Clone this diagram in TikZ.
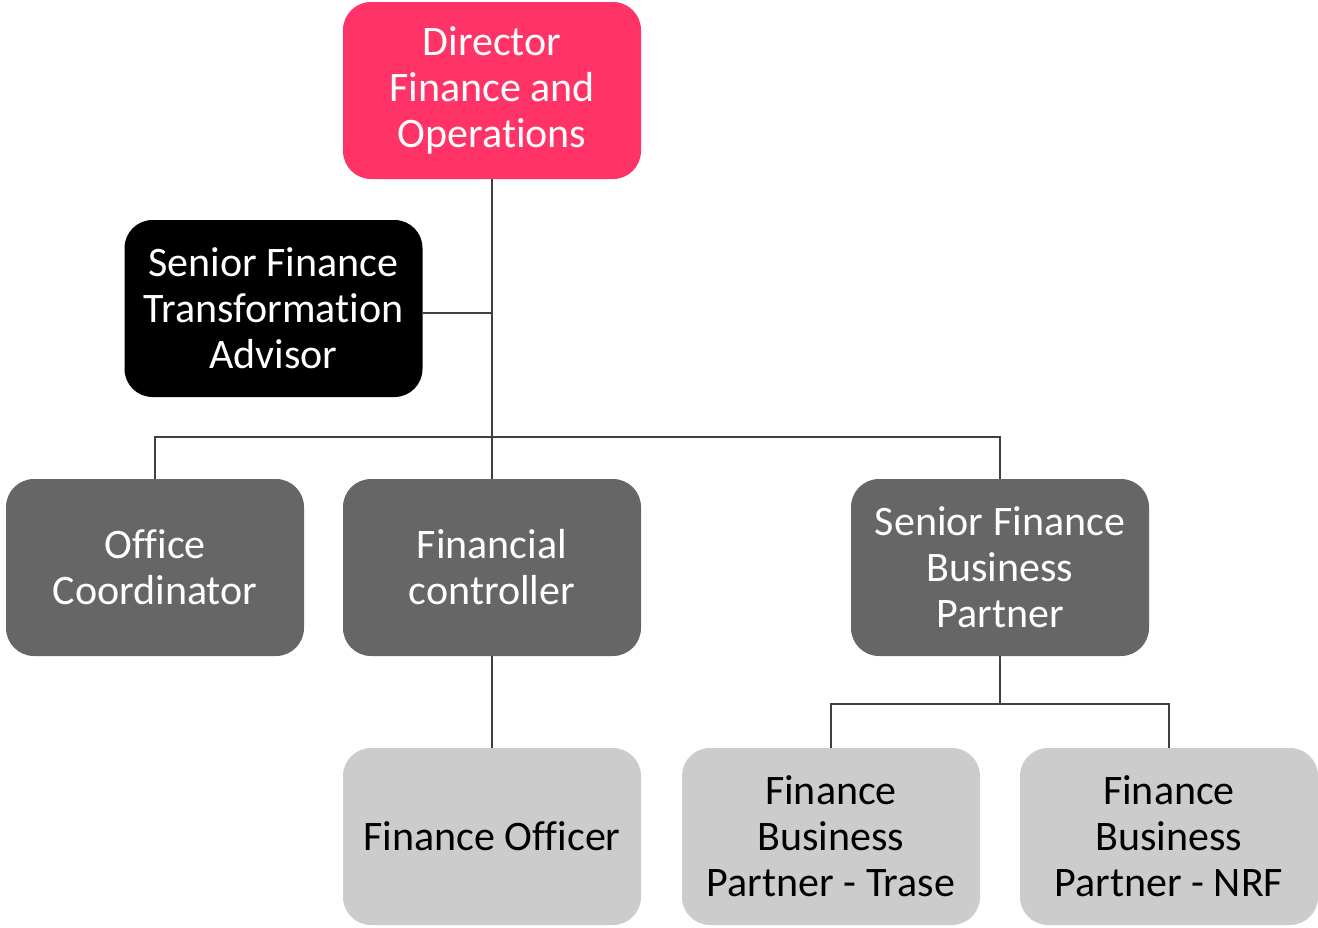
\documentclass[tikz,border=0pt]{standalone}
\usepackage{fontspec}
\setmainfont{Carlito}[Ligatures={NoCommon}]
\definecolor{pinkc}{HTML}{FF3366}
\definecolor{darkc}{HTML}{666666}
\definecolor{lightc}{HTML}{CCCCCC}
\definecolor{linec}{HTML}{404040}
\begin{document}
\begin{tikzpicture}[x=1pt,y=-1pt,
  box/.style={rounded corners=28pt, minimum width=298pt, minimum height=177pt, inner sep=0pt, align=center, font=\fontsize{42}{46}\selectfont},
  pinkbox/.style={box, fill=pinkc, text=white},
  blackbox/.style={box, fill=black, text=white},
  darkbox/.style={box, fill=darkc, text=white},
  lightbox/.style={box, fill=lightc, text=black},
  conn/.style={draw=linec, line width=1.8pt}]
\useasboundingbox (0,0) rectangle (1318,927);
\node[pinkbox] (dir) at (492,90.5) {Director\\Finance and\\Operations};
\node[blackbox] (sfta) at (273.5,308.5) {Senior Finance\\Transformation\\Advisor};
\node[darkbox] (oc) at (155,567.5) {Office\\Coordinator};
\node[darkbox] (fc) at (492,567.5) {Financial\\controller};
\node[darkbox] (sfbp) at (1000,567.5) {Senior Finance\\Business\\Partner};
\node[lightbox] (fo) at (492,836.5) {Finance Officer};
\node[lightbox] (fbpt) at (831,836.5) {Finance\\Business\\Partner - Trase};
\node[lightbox] (fbpn) at (1169,836.5) {Finance\\Business\\Partner - NRF};
\coordinate (j1) at (492,313);
\coordinate (bar) at (492,437);
\coordinate (j2) at (1000,704);
\draw[conn] (dir.south) -- (fc.north);
\draw[conn] (sfta.east |- j1) -- (j1);
\draw[conn] (oc.north) -- (oc.north |- bar) -- (sfbp.north |- bar) -- (sfbp.north);
\draw[conn] (fc.south) -- (fo.north);
\draw[conn] (sfbp.south) -- (j2);
\draw[conn] (fbpt.north) -- (fbpt.north |- j2) -- (fbpn.north |- j2) -- (fbpn.north);
\end{tikzpicture}
\end{document}
